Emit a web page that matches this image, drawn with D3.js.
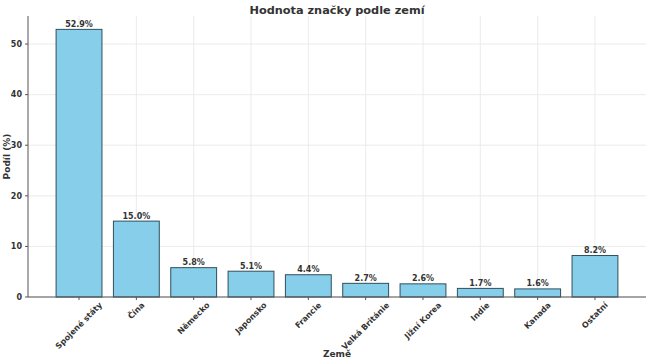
<!DOCTYPE html>
<html><head><meta charset="utf-8">
<script src="https://cdn.jsdelivr.net/npm/d3@7"></script>
<style>body{margin:0;background:#fff}svg{display:block}text{font-family:"DejaVu Sans",sans-serif;font-weight:bold;fill:#333}</style>
</head><body><svg id="c" width="650" height="364"></svg>
<script>
const categories = ["Spojené státy","Čína","Německo","Japonsko","Francie","Velká Británie","Jižní Korea","Indie","Kanada","Ostatní"];
const values = [52.9,15.0,5.8,5.1,4.4,2.7,2.6,1.7,1.6,8.2];
const yTicks = [0,10,20,30,40,50];

const svg = d3.select("#c");
const L=28,R=646,T=16,B=297;
const x = d3.scaleLinear().domain([-0.89,9.89]).range([L,R]);
const y = d3.scaleLinear().domain([0,55.545]).range([B,T]);
const bw = x(0.8)-x(0);

// grid
svg.append("g").selectAll("line").data(yTicks).join("line")
 .attr("x1",L).attr("x2",R).attr("y1",d=>y(d)).attr("y2",d=>y(d))
 .attr("stroke","#e6e6e6").attr("stroke-width",0.8);
svg.append("g").selectAll("line").data(categories).join("line")
 .attr("x1",(d,i)=>x(i)).attr("x2",(d,i)=>x(i)).attr("y1",T).attr("y2",B)
 .attr("stroke","#e6e6e6").attr("stroke-width",0.8);

// bars
svg.append("g").selectAll("rect").data(values).join("rect")
 .attr("x",(d,i)=>x(i)-bw/2).attr("width",bw)
 .attr("y",d=>y(d)).attr("height",d=>B-y(d))
 .attr("fill","#87CEEB").attr("stroke","#2f4f5a").attr("stroke-width",1);

// value labels
svg.append("g").selectAll("text").data(values).join("text")
 .attr("x",(d,i)=>x(i)).attr("y",d=>y(d)-2.5)
 .attr("text-anchor","middle").attr("font-size",8)
 .text(d=>d.toFixed(1)+"%");

// axes lines
svg.append("line").attr("x1",L).attr("x2",L).attr("y1",T).attr("y2",B).attr("stroke","#555").attr("stroke-width",1);
svg.append("line").attr("x1",L).attr("x2",R).attr("y1",B).attr("y2",B).attr("stroke","#555").attr("stroke-width",1);

// y ticks
const yg = svg.append("g");
yTicks.forEach(t=>{
  yg.append("line").attr("x1",L-3).attr("x2",L).attr("y1",y(t)).attr("y2",y(t)).attr("stroke","#555");
  yg.append("text").attr("x",L-6).attr("y",y(t)).attr("dy","0.35em").attr("text-anchor","end").attr("font-size",8).text(t);
});

// x tick labels
const xg = svg.append("g");
categories.forEach((c,i)=>{
  xg.append("line").attr("x1",x(i)).attr("x2",x(i)).attr("y1",B).attr("y2",B+3).attr("stroke","#555");
  const t = xg.append("text").attr("font-size",8).attr("text-anchor","middle").attr("dominant-baseline","central").text(c);
  const len = t.node().getComputedTextLength();
  const ext = (len+8)*Math.SQRT1_2;
  const cy = B+4+ext/2;
  t.attr("transform",`translate(${x(i)},${cy}) rotate(-45)`);
});

// titles
svg.append("text").attr("x",(L+R)/2).attr("y",14).attr("text-anchor","middle").attr("font-size",11.3).text("Hodnota značky podle zemí");
svg.append("text").attr("x",(L+R)/2).attr("y",357).attr("text-anchor","middle").attr("font-size",9).text("Země");
svg.append("text").attr("transform",`translate(10,${(T+B)/2}) rotate(-90)`).attr("text-anchor","middle").attr("font-size",9).text("Podíl (%)");
</script></body></html>
